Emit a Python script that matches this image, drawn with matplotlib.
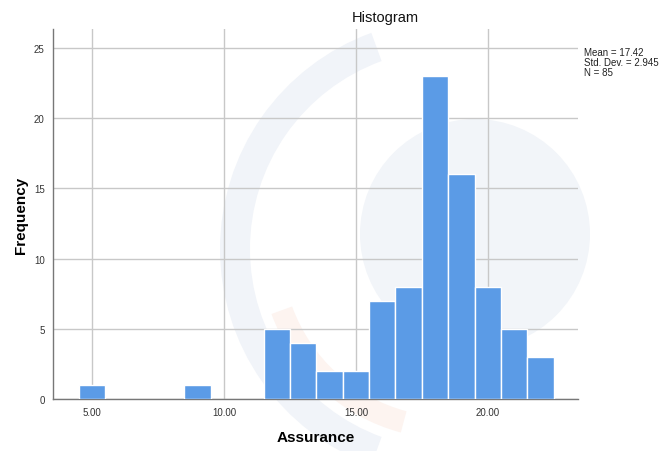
import numpy as np
import matplotlib.pyplot as plt
from matplotlib.patches import Circle, Wedge

# Assurance scores (bin centres) and their counts
scores = [5, 9, 12, 13, 14, 15, 16, 17, 18, 19, 20, 21, 22]
counts = [1, 1, 5, 4, 2, 2, 7, 8, 23, 16, 8, 5, 3]
xticks = [5, 10, 15, 20]
xtick_labels = ["5.00", "10.00", "15.00", "20.00"]
yticks = [0, 5, 10, 15, 20, 25]
stats_text = "Mean = 17.42\nStd. Dev. = 2.945\nN = 85"

plt.rcParams["font.family"] = ["Liberation Sans", "DejaVu Sans"]

fig = plt.figure(figsize=(6.66, 4.52), dpi=100)

# faint background logo (screen coords, y pointing down)
bg = fig.add_axes([0, 0, 1, 1], zorder=0)
bg.set_xlim(0, 666)
bg.set_ylim(452, 0)
bg.axis("off")
bg.add_patch(Wedge((450, 250), 230, 110, 250, width=30, color="#f1f4f9", lw=0))
bg.add_patch(Circle((475, 235), 115, color="#f2f5f9", lw=0))
bg.add_patch(Wedge((450, 250), 190, 105, 160, width=22, color="#fdf4f0", lw=0))

ax = fig.add_axes([0.0796, 0.115, 0.788, 0.8186], zorder=1)
ax.patch.set_alpha(0)

ax.bar(scores, counts, width=1.0, color="#5b9be6", edgecolor="white",
       linewidth=1.0, zorder=3)

ax.set_xlim(3.52, 23.41)
ax.set_ylim(0, 26.35)
ax.set_xticks(xticks)
ax.set_xticklabels(xtick_labels)
ax.set_yticks(yticks)
ax.tick_params(axis="both", length=0, labelsize=7, colors="#333333", pad=6)

ax.grid(True, color="#c8c8c8", linewidth=1.0, zorder=1)
ax.set_axisbelow(True)
for side in ["top", "right"]:
    ax.spines[side].set_visible(False)
for side in ["left", "bottom"]:
    ax.spines[side].set_color("#777777")
    ax.spines[side].set_linewidth(1.0)

ax.set_xlabel("Assurance", fontsize=11, fontweight="bold", labelpad=9)
ax.set_ylabel("Frequency", fontsize=11, fontweight="bold", labelpad=4)

fig.text(385 / 666, 1 - 18 / 452, "Histogram", ha="center", va="center",
         fontsize=10.5, color="#111111")
fig.text(584 / 666, 1 - 48 / 452, stats_text, ha="left", va="top",
         fontsize=7, color="#222222", linespacing=1.0)

fig.savefig("out.png", dpi=100)
